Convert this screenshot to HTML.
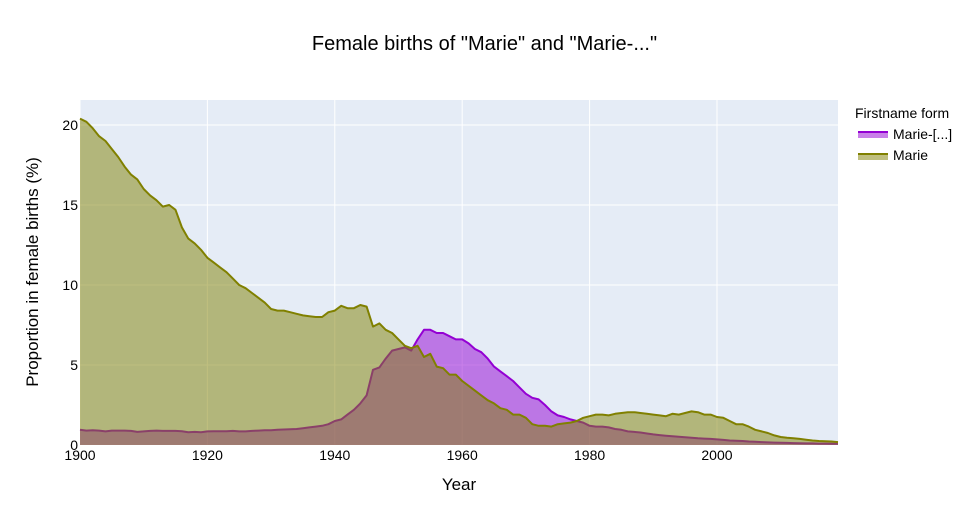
<!DOCTYPE html>
<html><head><meta charset="utf-8"><style>
body{margin:0;background:#fff;font-family:"Liberation Sans",sans-serif}
svg text{font-family:"Liberation Sans",sans-serif}
</style></head><body>
<svg id="chart" width="969" height="525" xmlns="http://www.w3.org/2000/svg">
<rect width="969" height="525" fill="#fff"/>
<text x="484.5" y="50" text-anchor="middle" font-size="20" fill="#000">Female births of "Marie" and "Marie-..."</text>
<rect x="80" y="100" width="758" height="345" fill="#e5ecf6"/>
<g id="grid"></g>
<g id="series"></g>
<g id="axes"></g>
<text x="459" y="490" text-anchor="middle" font-size="17" fill="#000">Year</text>
<text transform="translate(38,272) rotate(-90)" text-anchor="middle" font-size="17" fill="#000">Proportion in female births (%)</text>
<g>
<text x="855" y="118" font-size="14" fill="#000">Firstname form</text>
<g>
<rect x="858" y="132" width="30" height="6" fill="rgba(148,0,211,0.5)"/>
<line x1="858" y1="132" x2="888" y2="132" stroke="#9400d3" stroke-width="2"/>
<text x="893" y="139" font-size="14" fill="#000">Marie-[...]</text></g>
<g>
<rect x="858" y="154" width="30" height="6" fill="rgba(128,128,0,0.5)"/>
<line x1="858" y1="154" x2="888" y2="154" stroke="#808000" stroke-width="2"/>
<text x="893" y="160" font-size="14" fill="#000">Marie</text></g>
</g>
</svg>
<script>
const startYear = 1900;
const marieCompound = [
0.95,0.9,0.92,0.9,0.85,0.9,0.9,0.9,0.88,0.82,
0.85,0.88,0.9,0.88,0.88,0.88,0.86,0.8,0.82,0.8,
0.85,0.86,0.86,0.86,0.88,0.85,0.85,0.88,0.9,0.92,
0.92,0.95,0.97,0.98,1.0,1.05,1.1,1.15,1.2,1.3,
1.5,1.6,1.9,2.2,2.6,3.1,4.7,4.85,5.4,5.9,
6.0,6.1,5.9,6.6,7.2,7.2,7.0,7.0,6.8,6.6,
6.6,6.35,6.0,5.8,5.4,4.9,4.6,4.3,4.0,3.6,
3.2,2.95,2.85,2.5,2.1,1.85,1.75,1.6,1.5,1.4,
1.2,1.15,1.15,1.1,1.0,0.95,0.85,0.82,0.78,0.72,
0.66,0.62,0.58,0.55,0.52,0.48,0.45,0.42,0.4,0.38,
0.35,0.32,0.28,0.26,0.25,0.22,0.2,0.18,0.16,0.15,
0.14,0.13,0.12,0.11,0.1,0.1,0.09,0.09,0.08,0.08];
const marie = [
20.4,20.2,19.8,19.3,19.0,18.5,18.0,17.4,16.9,16.6,
16.0,15.6,15.3,14.9,15.0,14.7,13.6,12.9,12.6,12.2,
11.7,11.4,11.1,10.8,10.4,10.0,9.8,9.5,9.2,8.9,
8.5,8.4,8.4,8.3,8.2,8.1,8.05,8.0,8.0,8.3,
8.4,8.7,8.55,8.55,8.75,8.65,7.4,7.6,7.2,7.0,
6.6,6.2,6.05,6.2,5.5,5.7,4.9,4.8,4.4,4.4,
4.0,3.7,3.4,3.1,2.8,2.6,2.3,2.2,1.9,1.9,
1.7,1.3,1.2,1.2,1.15,1.3,1.35,1.4,1.5,1.7,
1.8,1.9,1.9,1.85,1.95,2.0,2.05,2.05,2.0,1.95,
1.9,1.85,1.8,1.95,1.9,2.0,2.1,2.05,1.9,1.9,
1.75,1.7,1.5,1.3,1.3,1.15,0.95,0.85,0.75,0.6,
0.5,0.45,0.42,0.38,0.33,0.28,0.25,0.23,0.22,0.18];
const xTicks = [1900,1920,1940,1960,1980,2000];
const yTicks = [0,5,10,15,20];

const X0=80,X1=838,Y0=445,Y1=100;
const xMin=1900,xMax=2019,yMin=0,yMax=21.56;
const xs=v=>X0+(v-xMin)/(xMax-xMin)*(X1-X0);
const ys=v=>Y0-(v-yMin)/(yMax-yMin)*(Y0-Y1);
const NS="http://www.w3.org/2000/svg";
function mk(tag,attrs,parent){const e=document.createElementNS(NS,tag);for(const k in attrs)e.setAttribute(k,attrs[k]);parent.appendChild(e);return e;}
const grid=document.getElementById('grid'),axes=document.getElementById('axes'),ser=document.getElementById('series');
xTicks.forEach(t=>{
  const l=mk('line',{x1:xs(t),x2:xs(t),y1:Y1,y2:Y0,stroke:'#fff','stroke-width':1},grid);
  
  
  const tx=mk('text',{x:xs(t),y:Y0+15,'text-anchor':'middle','font-size':14,fill:'#000'},axes);
  tx.textContent=t;
  
  
});
yTicks.forEach(t=>{
  const l=mk('line',{x1:X0,x2:X1,y1:ys(t),y2:ys(t),stroke:'#fff','stroke-width':1},grid);
  
  
  const tx=mk('text',{x:X0-2,y:ys(t)+5,'text-anchor':'end','font-size':14,fill:'#000'},axes);
  tx.textContent=t;
  
  
});
function draw(arr,line,fill,name){
  const pts=arr.map((v,i)=>xs(startYear+i).toFixed(1)+','+ys(v).toFixed(1));
  const area=mk('path',{d:'M'+xs(startYear)+','+ys(0)+' L'+pts.join(' L')+' L'+xs(startYear+arr.length-1)+','+ys(0)+' Z',fill:fill},ser);
  
  
  const ln=mk('path',{d:'M'+pts.join(' L'),fill:'none',stroke:line,'stroke-width':2,'stroke-linejoin':'round'},ser);
  
  
}
draw(marieCompound,'#9400d3','rgba(148,0,211,0.5)','marie-compound');
draw(marie,'#808000','rgba(128,128,0,0.5)','marie');
</script>
</body></html>
